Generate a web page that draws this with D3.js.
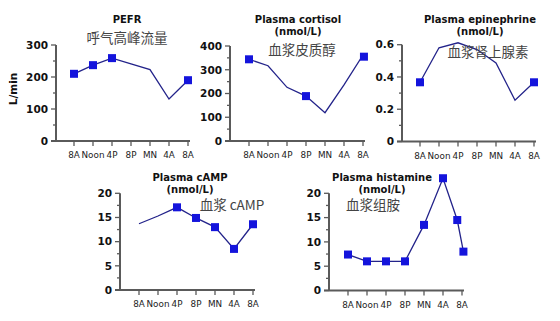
<!DOCTYPE html>
<html><head><meta charset="utf-8">
<script src="https://cdn.jsdelivr.net/npm/d3@7"></script>
<style>body{margin:0;background:#fff}svg{display:block}</style>
</head><body>
<svg id="c" width="560" height="321"></svg>
<script>
const timeLabels = ["8A","Noon","4P","8P","MN","4A","8A"];
const timeHours = [0,4,8,12,16,20,24];

// values: [hour, value, marker?]
const pefr = [[0,210,1],[4,237,1],[8,259,1],[12,241,0],[16,223,0],[20,131,0],[24,190,1]];
const cortisol = [[0,344,1],[4,317,0],[8,226,0],[12,189,1],[16,119,0],[20,236,0],[24,362,0],[24.2,355,1]];
const epinephrine = [[0,0.367,1],[4,0.581,0],[8,0.612,0],[12,0.57,0],[16,0.487,0],[20,0.256,0],[24,0.367,1]];
const camp = [[0,13.7,0],[4,15.3,0],[8,17.1,1],[12,14.9,1],[16,13.0,1],[20,8.5,1],[24,13.6,1]];
const histamine = [[0,7.4,1],[4,6.0,1],[8,6.0,1],[12,6.0,1],[16,13.5,1],[20,23.1,1],[23,14.5,1],[24.3,8.0,1]];

const pefrTicks = [0,100,200,300];
const cortisolTicks = [0,100,200,300,400];
const epiTicks = [0,0.2,0.4,0.6];
const campTicks = [0,5,10,15,20];
const histTicks = [0,5,10,15,20];

const panels = [
  {data:pefr, ticks:pefrTicks, max:300, minorStep:50, ax:56, x0:74, yb:141, yt:45, title:["PEFR"], ty:19, tx:127, cn:"呼气高峰流量", cnx:127, cny:38, ylab:"L/min", fmt:d=>d},
  {data:cortisol, ticks:cortisolTicks, max:400, minorStep:50, ax:230, x0:249, yb:141, yt:46, title:["Plasma cortisol","(nmol/L)"], ty:19, tx:298, cn:"血浆皮质醇", cnx:302, cny:50, fmt:d=>d},
  {data:epinephrine, ticks:epiTicks, max:0.6, minorStep:0.1, ax:402, x0:420, yb:141.5, yt:44.7, title:["Plasma epinephrine","(nmol/L)"], ty:19, tx:480, cn:"血浆肾上腺素", cnx:488, cny:52, fmt:d=>d===0?"0":d3.format(".1f")(d)},
  {data:camp, ticks:campTicks, max:20, minorStep:2.5, ax:120, x0:139, yb:290, yt:193.3, title:["Plasma cAMP","(nmol/L)"], ty:177, tx:190, cn:"血浆 cAMP", cnx:232, cny:205, fmt:d=>d},
  {data:histamine, ticks:histTicks, max:20, minorStep:2.5, ax:329, x0:348, yb:290.5, yt:193.3, title:["Plasma histamine","(nmol/L)"], ty:177, tx:382, cn:"血浆组胺", cnx:373, cny:205, fmt:d=>d}
];

const svg = d3.select("#c");
const axisCol = "#5a5a5a";
const lineCol = "#23238a";
const markCol = "#1414dc";

panels.forEach(p=>{
  const g = svg.append("g");
  const x = d3.scaleLinear().domain([0,24]).range([p.x0, p.x0+114]);
  const y = d3.scaleLinear().domain([0,p.max]).range([p.yb, p.yt]);
  g.append("line").attr("x1",p.ax).attr("x2",p.ax).attr("y1",p.yb).attr("y2",p.yt).attr("stroke",axisCol).attr("stroke-width",2);
  g.append("line").attr("x1",p.ax-5).attr("x2",x(24)+2).attr("y1",p.yb).attr("y2",p.yb).attr("stroke",axisCol).attr("stroke-width",2);
  const minors = d3.range(0, p.max+1e-9, p.minorStep);
  minors.forEach(v=>{
    const isMajor = p.ticks.some(t=>Math.abs(t-v)<1e-9);
    g.append("line").attr("x1",p.ax-(isMajor?5:3)).attr("x2",p.ax).attr("y1",y(v)).attr("y2",y(v)).attr("stroke",axisCol).attr("stroke-width",1.3);
  });
  p.ticks.forEach(v=>{
    g.append("text").attr("x",p.ax-8).attr("y",y(v)).attr("dy","0.36em").attr("text-anchor","end")
      .attr("font-family","DejaVu Sans").attr("font-weight","bold").attr("font-size",10.5).attr("fill","#111").text(p.fmt(v));
  });
  timeHours.forEach((h,i)=>{
    g.append("line").attr("x1",x(h)).attr("x2",x(h)).attr("y1",p.yb).attr("y2",p.yb+5).attr("stroke",axisCol).attr("stroke-width",1.3);
    g.append("text").attr("x",x(h)).attr("y",p.yb+17).attr("text-anchor","middle")
      .attr("font-family","DejaVu Sans").attr("font-size",8.8).attr("fill","#222").text(timeLabels[i]);
  });
  g.append("path").datum(p.data).attr("fill","none").attr("stroke",lineCol).attr("stroke-width",1.3)
    .attr("d", d3.line().x(d=>x(d[0])).y(d=>y(d[1])));
  g.selectAll("rect.m").data(p.data.filter(d=>d[2])).enter().append("rect")
    .attr("x",d=>x(d[0])-4).attr("y",d=>y(d[1])-4).attr("width",8).attr("height",8).attr("fill",markCol);
  p.title.forEach((t,i)=>{
    g.append("text").attr("x",p.tx).attr("y",p.ty+i*12).attr("dy","0.35em").attr("text-anchor","middle")
      .attr("font-family","DejaVu Sans").attr("font-weight","bold").attr("font-size",10).attr("fill","#111").text(t);
  });
  g.append("text").attr("x",p.cnx).attr("y",p.cny).attr("dy","0.35em").attr("text-anchor","middle")
    .attr("font-family","Noto Sans CJK SC").attr("font-size",13.5).attr("fill","#444").text(p.cn);
  if(p.ylab){
    g.append("text").attr("transform",`translate(13,89) rotate(-90)`).attr("text-anchor","middle").attr("dy","0.35em")
      .attr("font-family","DejaVu Sans").attr("font-weight","bold").attr("font-size",10.5).attr("fill","#111").text(p.ylab);
  }
});
</script>
</body></html>
